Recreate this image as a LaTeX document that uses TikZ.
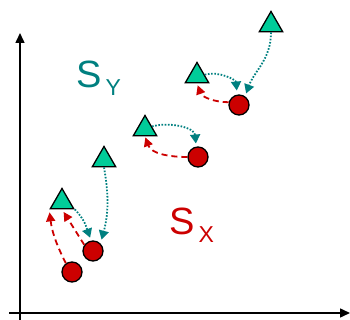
\documentclass[tikz,border=0pt]{standalone}
\usepackage{fontspec}
\setmainfont{Liberation Sans}
\usepackage{tikz}
\usetikzlibrary{
  arrows.meta,
  shapes.geometric
}
\definecolor{sxred}{RGB}{204,0,0}
\definecolor{syteal}{RGB}{0,128,128}
\definecolor{syfill}{RGB}{0,204,153}
\tikzset{
  ytri/.style={regular polygon,regular polygon sides=3,draw=black,
    line width=1.3pt,fill=syfill,minimum size=27pt,inner sep=0pt},
  xball/.style={circle,draw=black,line width=1.3pt,fill=sxred,
    minimum size=20pt,inner sep=0pt},
  sxflow/.style={-{Triangle[length=9pt,width=9pt]},line width=1.8pt,
    dash pattern=on 6pt off 4pt,draw=sxred},
  syflow/.style={-{Triangle[length=9pt,width=10pt]},line width=1.8pt,
    dash pattern=on 1.6pt off 1.6pt,draw=syteal},
  axis/.style={-{Triangle[length=10pt,width=9pt]},line width=1.5pt},
  setlab/.style={anchor=base west,inner sep=0pt}
}

\begin{document}
\begin{tikzpicture}[x=1pt,y=1pt]
  \useasboundingbox (0,0) rectangle (350,320);
  % axes
  \coordinate (xl) at (9,7);
  \coordinate (xe) at (350,7);
  \coordinate (yl) at (20,0);
  \coordinate (ye) at (20,287);
  \draw[axis] (xl)--(xe);
  \draw[axis] (yl)--(ye);
  % labels
  \node[setlab,text=syteal] (sy) at (76,232)
    {\fontsize{38}{38}\selectfont S\hspace{4pt}\raisebox{-8pt}{\fontsize{23}{23}\selectfont Y}};
  \node[setlab,text=sxred] (sx) at (169,85)
    {\fontsize{38}{38}\selectfont S\hspace{4pt}\raisebox{-8pt}{\fontsize{23}{23}\selectfont X}};
  % triangles and circles
  \node[ytri] (t1) at (62,118) {};
  \node[ytri] (t2) at (104,160) {};
  \node[ytri] (t3) at (145,191) {};
  \node[ytri] (t4) at (197,244) {};
  \node[ytri] (t5) at (271,295) {};
  \node[xball] (c1) at (72,48) {};
  \node[xball] (c2) at (93,69) {};
  \node[xball] (c3) at (198,163) {};
  \node[xball] (c4) at (239,215) {};
  % flows
  \draw[sxflow,shorten >=3pt] (c1.125) to[bend left=10] (t1.corner 2);
  \draw[sxflow,shorten >=3pt] (c2.145) -- (t1.south);
  \draw[syflow,shorten >=3pt] (t1.corner 3) to[out=-45,in=110] (c2.100);
  \draw[syflow,shorten >=4pt] (t2.south) to[out=-80,in=75] (c2.45);
  \draw[syflow,shorten >=3pt] (t3.20) to[out=15,in=95] (c3.100);
  \draw[sxflow,shorten >=1pt] (c3.west) to[out=180,in=-70] (t3.south);
  \draw[syflow,shorten >=4pt] (t4.10) to[out=15,in=95] (c4.100);
  \draw[sxflow,shorten >=2pt] (c4.165) to[out=180,in=-70] (t4.south);
  \draw[syflow,shorten >=3pt] (t5.south) to[out=-90,in=70] (c4.55);
\end{tikzpicture}
\end{document}
